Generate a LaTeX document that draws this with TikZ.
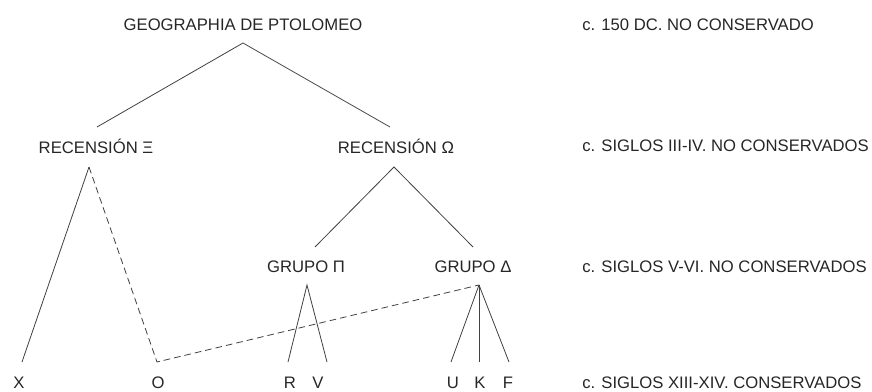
\documentclass[tikz,border=0pt]{standalone}
\usepackage{fontspec}
\setmainfont{Liberation Sans}
\begin{document}
\begin{tikzpicture}[x=0.75pt,y=-0.75pt,
  lbl/.style={inner sep=0pt,font=\fontsize{12.5pt}{14pt}\selectfont,text=black!85},
  date/.style={lbl,anchor=west},
  edge/.style={draw=black!75,line width=0.6pt},
  dash edge/.style={edge,dash pattern=on 5pt off 3pt}]
\useasboundingbox (0,0) rectangle (872,392);
% texts
\node[lbl] (geo) at (243,25) {GEOGRAPHIA DE PTOLOMEO};
\node[lbl] (xi) at (96,146) {RECENSIÓN Ξ};
\node[lbl] (om) at (396,146) {RECENSIÓN Ω};
\node[lbl] (pi) at (306,267) {GRUPO Π};
\node[lbl] (de) at (473,267) {GRUPO Δ};
\node[lbl] (X) at (19,383) {X};
\node[lbl] (O) at (158,383) {O};
\node[lbl] (R) at (290,383) {R};
\node[lbl] (V) at (318,383) {V};
\node[lbl] (U) at (453,383) {U};
\node[lbl] (K) at (480,383) {K};
\node[lbl] (F) at (508,383) {F};
\node[date] (d1) at (582,25) {c. 150 DC. NO CONSERVADO};
\node[date] (d2) at (582,146) {c. SIGLOS III-IV. NO CONSERVADOS};
\node[date] (d3) at (582,267) {c. SIGLOS V-VI. NO CONSERVADOS};
\node[date] (d4) at (582,383) {c. SIGLOS XIII-XIV. CONSERVADOS};
% connector points
\coordinate (geoB) at (243,43);
\coordinate (xiT) at (97,127);
\coordinate (omT) at (390,127);
\coordinate (xiB) at (89,167);
\coordinate (omB) at (394,167);
\coordinate (piT) at (315,247);
\coordinate (deT) at (473,247);
\coordinate (piB) at (307,285);
\coordinate (deB) at (479,285);
\coordinate (XT) at (22,362);
\coordinate (OT) at (157,362);
\coordinate (RT) at (288,362);
\coordinate (VT) at (327,362);
\coordinate (UT) at (451,362);
\coordinate (KT) at (479,362);
\coordinate (FT) at (509,362);
% connectors
\draw[edge] (xiT) -- (geoB) -- (omT);
\draw[edge] (xiB) -- (XT);
\draw[dash edge] (xiB) -- (OT) -- (deB);
\draw[edge] (piT) -- (omB) -- (deT);
\draw[edge] (RT) -- (piB) -- (VT);
\draw[edge] (deB) -- (UT);
\draw[edge] (deB) -- (KT);
\draw[edge] (deB) -- (FT);
\end{tikzpicture}
\end{document}
